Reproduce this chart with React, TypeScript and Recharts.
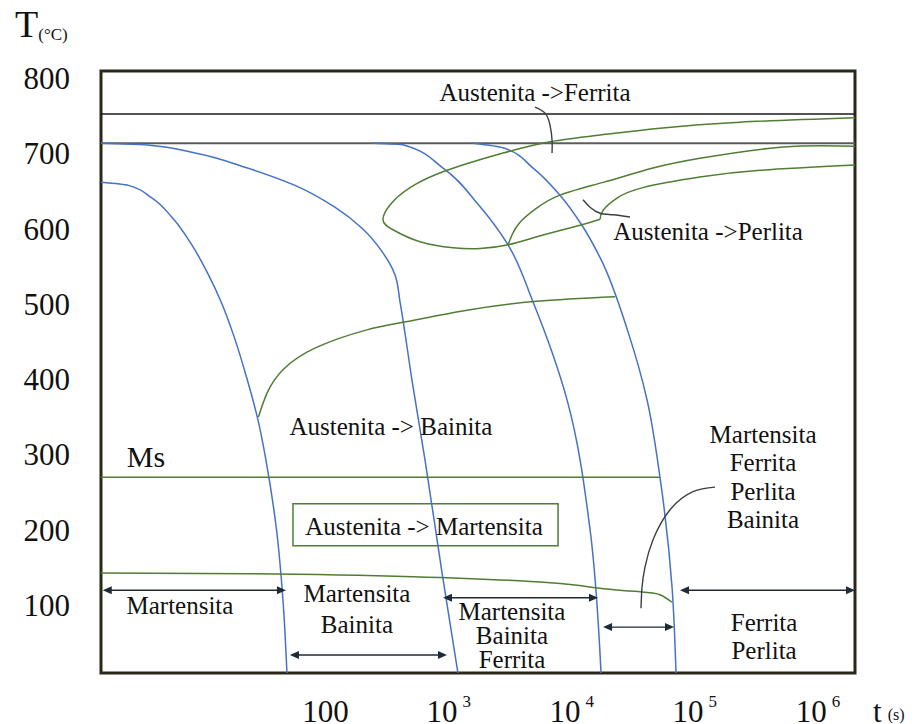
import { LineChart, Line, XAxis, YAxis, ReferenceLine, ReferenceArea, ReferenceDot } from "recharts"

const SERIF = '"Liberation Serif", "Times New Roman", serif'
const BLUE = "#4472c4"
const GREEN = "#507d33"
const INK = "#1f2a36"
const FRAME = "#2b2719"

const timeTicks = [100, 1e3, 1e4, 1e5, 1e6]
const tempTicks = [100, 200, 300, 400, 500, 600, 700, 800]

// critical temperatures, °C
const A3 = 753
const A1 = 714

// cooling curves, t in s / T in °C
const cooling1 = [
  { t: 1.5, T: 662 }, { t: 2.5, T: 658 }, { t: 3.9, T: 641 }, { t: 5.7, T: 615 },
  { t: 8.2, T: 579 }, { t: 11.2, T: 539 }, { t: 14.2, T: 503 }, { t: 17.9, T: 459 },
  { t: 23.2, T: 399 }, { t: 28.3, T: 346 }, { t: 32.8, T: 293 }, { t: 40, T: 200 },
  { t: 45.1, T: 107 }, { t: 48.6, T: 10 },
]
const cooling2 = [
  { t: 1.5, T: 714 }, { t: 3.4, T: 712 }, { t: 8.7, T: 701 }, { t: 22.2, T: 682 },
  { t: 56.5, T: 658 }, { t: 119, T: 629 }, { t: 198, T: 601 }, { t: 288, T: 570 },
  { t: 367, T: 539 }, { t: 403, T: 503 }, { t: 504, T: 399 }, { t: 643, T: 293 },
  { t: 884, T: 143 }, { t: 1190, T: 10 },
]
const cooling3 = [
  { t: 243, T: 714 }, { t: 426, T: 712 }, { t: 900, T: 681 }, { t: 1733, T: 633 },
  { t: 3040, T: 579 }, { t: 4850, T: 503 }, { t: 9160, T: 373 }, { t: 14100, T: 200 },
  { t: 17300, T: 10 },
]
const cooling4 = [
  { t: 1580, T: 714 }, { t: 2770, T: 708 }, { t: 4850, T: 681 }, { t: 8030, T: 645 },
  { t: 12100, T: 605 }, { t: 17000, T: 562 }, { t: 28700, T: 463 }, { t: 40900, T: 373 },
  { t: 52100, T: 270 }, { t: 65300, T: 124 }, { t: 70300, T: 10 },
]

// transformation curves
const ferriteStart = [
  { t: 2e6, T: 748 }, { t: 233000, T: 742 }, { t: 52100, T: 734 }, { t: 17000, T: 725 },
  { t: 6660, T: 716 }, { t: 2770, T: 701 }, { t: 970, T: 678 }, { t: 486, T: 655 },
  { t: 334, T: 632 }, { t: 293, T: 612 }, { t: 353, T: 599 }, { t: 586, T: 583 },
  { t: 1085, T: 575 }, { t: 1800, T: 574 }, { t: 3040, T: 579 }, { t: 5850, T: 592 },
  { t: 11700, T: 605 }, { t: 17000, T: 613 },
]
const pearliteEnd = [
  { t: 17000, T: 613 }, { t: 18000, T: 625 }, { t: 23300, T: 641 }, { t: 37900, T: 655 },
  { t: 110000, T: 669 }, { t: 338000, T: 678 }, { t: 2e6, T: 685 },
]
const pearliteStart = [
  { t: 3040, T: 579 }, { t: 3270, T: 592 }, { t: 3800, T: 609 }, { t: 5220, T: 628 },
  { t: 8030, T: 645 }, { t: 18000, T: 662 }, { t: 45700, T: 681 }, { t: 110000, T: 694 },
  { t: 520000, T: 709 }, { t: 2e6, T: 710 },
]
const bainiteStart = [
  { t: 28.5, T: 350 }, { t: 33.5, T: 382 }, { t: 45.1, T: 413 }, { t: 85.3, T: 443 },
  { t: 217, T: 466 }, { t: 426, T: 476 }, { t: 1410, T: 492 }, { t: 5220, T: 504 },
  { t: 22500, T: 510 },
]
const msLine = [{ t: 1.5, T: 270 }, { t: 52100, T: 270 }]
const mfLine = [
  { t: 1.5, T: 143 }, { t: 24.4, T: 142 }, { t: 514, T: 138 }, { t: 6660, T: 130 },
  { t: 16050, T: 123 }, { t: 35800, T: 118 }, { t: 52100, T: 114 }, { t: 65300, T: 104 },
]

// callout leaders
const leaderFerrite = [
  { t: 5030, T: 762 }, { t: 6070, T: 754 }, { t: 6660, T: 738 }, { t: 6920, T: 718 }, { t: 6920, T: 701 },
]
const leaderPearlite = [
  { t: 12350, T: 639 }, { t: 14080, T: 629 }, { t: 16970, T: 621 }, { t: 21640, T: 619 }, { t: 29750, T: 616 },
]
const leaderMixed = [
  { t: 145800, T: 257 }, { t: 96660, T: 251 }, { t: 62860, T: 227 }, { t: 45740, T: 187 },
  { t: 39390, T: 151 }, { t: 37230, T: 124 }, { t: 36540, T: 96 },
]

// double arrows marking the final structure ranges
const spans = [
  { from: 1.55, to: 47.7, T: 120 },
  { from: 51.4, to: 970, T: 34 },
  { from: 900, to: 16350, T: 110 },
  { from: 17960, to: 67700, T: 71 },
  { from: 75800, to: 2e6, T: 120 },
]

const martBox = { t1: 54.4, t2: 7740, T1: 179, T2: 235 }

const notes = [
  { t: 5030, T: 781, lines: ["Austenita ->Ferrita"] },
  { t: 128000, T: 596, lines: ["Austenita ->Perlita"] },
  { t: 340, T: 337, lines: ["Austenita -> Bainita"] },
  { t: 3.48, T: 297, lines: ["Ms"], size: 30 },
  { t: 631, T: 204, lines: ["Austenita -> Martensita"] },
  { t: 6.57, T: 100, lines: ["Martensita"] },
  { t: 180, T: 95, lines: ["Martensita", "Bainita"], leading: 30.5 },
  { t: 3270, T: 60, lines: ["Martensita", "Bainita", "Ferrita"], leading: 24 },
  { t: 358000, T: 270, lines: ["Martensita", "Ferrita", "Perlita", "Bainita"], leading: 28.3 },
  { t: 365000, T: 58, lines: ["Ferrita", "Perlita"], leading: 28.5 },
]

function TimeTick({ x, y, payload }: any) {
  const v = payload.value
  return (
    <text x={x} y={y + 49} textAnchor="middle" fontFamily={SERIF} fontSize={31} fill="#111">
      {v === 100 ? (
        "100"
      ) : (
        <>
          <tspan>10</tspan>
          <tspan dx={5} dy={-15} fontSize={17}>{Math.round(Math.log10(v))}</tspan>
        </>
      )}
    </text>
  )
}

function TempTick({ x, y, payload }: any) {
  return (
    <text x={x - 31} y={y} dy="0.34em" textAnchor="end" fontFamily={SERIF} fontSize={31} fill="#111">
      {payload.value}
    </text>
  )
}

function TempTitle({ viewBox }: any) {
  const vb = viewBox ?? { x: 31, y: 71 }
  return (
    <text x={vb.x - 16} y={vb.y - 34} fontFamily={SERIF} fill="#111">
      <tspan fontSize={38}>T</tspan>
      <tspan fontSize={17} dy={3}>(°C)</tspan>
    </text>
  )
}

function TimeTitle({ viewBox }: any) {
  const vb = viewBox ?? { x: 101, y: 673, width: 754 }
  return (
    <text x={vb.x + vb.width + 18} y={vb.y + 49} fontFamily={SERIF} fill="#111">
      <tspan fontSize={31}>t</tspan>
      <tspan fontSize={16} dx={6} dy={-2}>(s)</tspan>
    </text>
  )
}

function Span({ x1, y1, x2 }: any) {
  const head = 9
  const half = 4
  const a = Math.min(x1, x2)
  const b = Math.max(x1, x2)
  return (
    <g>
      <line x1={a + head - 1} y1={y1} x2={b - head + 1} y2={y1} stroke={INK} strokeWidth={1.4} />
      <polygon points={`${a},${y1} ${a + head},${y1 - half} ${a + head},${y1 + half}`} fill={INK} />
      <polygon points={`${b},${y1} ${b - head},${y1 - half} ${b - head},${y1 + half}`} fill={INK} />
    </g>
  )
}

function Note({ cx, cy, lines, size = 25, leading = 0 }: any) {
  const first = cy - ((lines.length - 1) * leading) / 2 + size * 0.33
  return (
    <text textAnchor="middle" fontFamily={SERIF} fontSize={size} fill="#111">
      {lines.map((s: string, i: number) => (
        <tspan key={i} x={cx} y={first + i * leading}>{s}</tspan>
      ))}
    </text>
  )
}

const curve = (data: any[], stroke: string, type: any, width = 1.5) => (
  <Line
    data={data}
    dataKey="T"
    type={type}
    stroke={stroke}
    strokeWidth={width}
    dot={false}
    activeDot={false}
    isAnimationActive={false}
  />
)

export default function App() {
  return (
    <div style={{ position: "absolute", left: 0, top: 0, width: 917, height: 724, background: "#fff" }}>
      <LineChart width={917} height={724} margin={{ top: 71, right: 62, bottom: 11, left: 31 }}>
        <XAxis
          type="number"
          dataKey="t"
          scale="log"
          domain={[1.5, 2e6]}
          allowDataOverflow
          ticks={timeTicks}
          interval={0}
          tick={<TimeTick />}
          tickLine={false}
          tickSize={0}
          tickMargin={0}
          axisLine={false}
          height={40}
          label={<TimeTitle />}
        />
        <YAxis
          type="number"
          dataKey="T"
          domain={[10, 810]}
          allowDataOverflow
          ticks={tempTicks}
          interval={0}
          tick={<TempTick />}
          tickLine={false}
          tickSize={0}
          tickMargin={0}
          axisLine={false}
          width={70}
          label={<TempTitle />}
        />
        <ReferenceArea x1={1.5} x2={2e6} y1={10} y2={810} fill="none" stroke={FRAME} strokeWidth={3} ifOverflow="visible" />
        <ReferenceLine y={A3} stroke="#1a1a1a" strokeWidth={1.5} ifOverflow="visible" />
        <ReferenceLine y={A1} stroke="#5c5c5c" strokeWidth={2} ifOverflow="visible" />
        <ReferenceArea
          x1={martBox.t1}
          x2={martBox.t2}
          y1={martBox.T1}
          y2={martBox.T2}
          fill="none"
          stroke={GREEN}
          strokeWidth={1.5}
          ifOverflow="visible"
        />

        {/* cooling curves fall steadily, so interpolate along the temperature direction */}
        {curve(cooling1, BLUE, "monotoneY")}
        {curve(cooling2, BLUE, "monotoneY")}
        {curve(cooling3, BLUE, "monotoneY")}
        {curve(cooling4, BLUE, "monotoneY")}

        {curve(ferriteStart, GREEN, "natural")}
        {curve(pearliteEnd, GREEN, "natural")}
        {curve(pearliteStart, GREEN, "natural")}
        {curve(bainiteStart, GREEN, "natural")}
        {curve(msLine, GREEN, "linear")}
        {curve(mfLine, GREEN, "natural")}

        {curve(leaderFerrite, "#3b3f45", "natural", 1.4)}
        {curve(leaderPearlite, "#3b3f45", "natural", 1.4)}
        {curve(leaderMixed, "#3b3f45", "natural", 1.4)}

        {spans.map((s, i) => (
          <ReferenceLine
            key={`span-${i}`}
            segment={[{ x: s.from, y: s.T }, { x: s.to, y: s.T }]}
            ifOverflow="visible"
            shape={<Span />}
          />
        ))}

        {notes.map((n, i) => (
          <ReferenceDot
            key={`note-${i}`}
            x={n.t}
            y={n.T}
            r={1}
            ifOverflow="visible"
            shape={(p: any) => <Note cx={p.cx} cy={p.cy} lines={n.lines} size={n.size} leading={n.leading} />}
          />
        ))}
      </LineChart>
    </div>
  )
}
